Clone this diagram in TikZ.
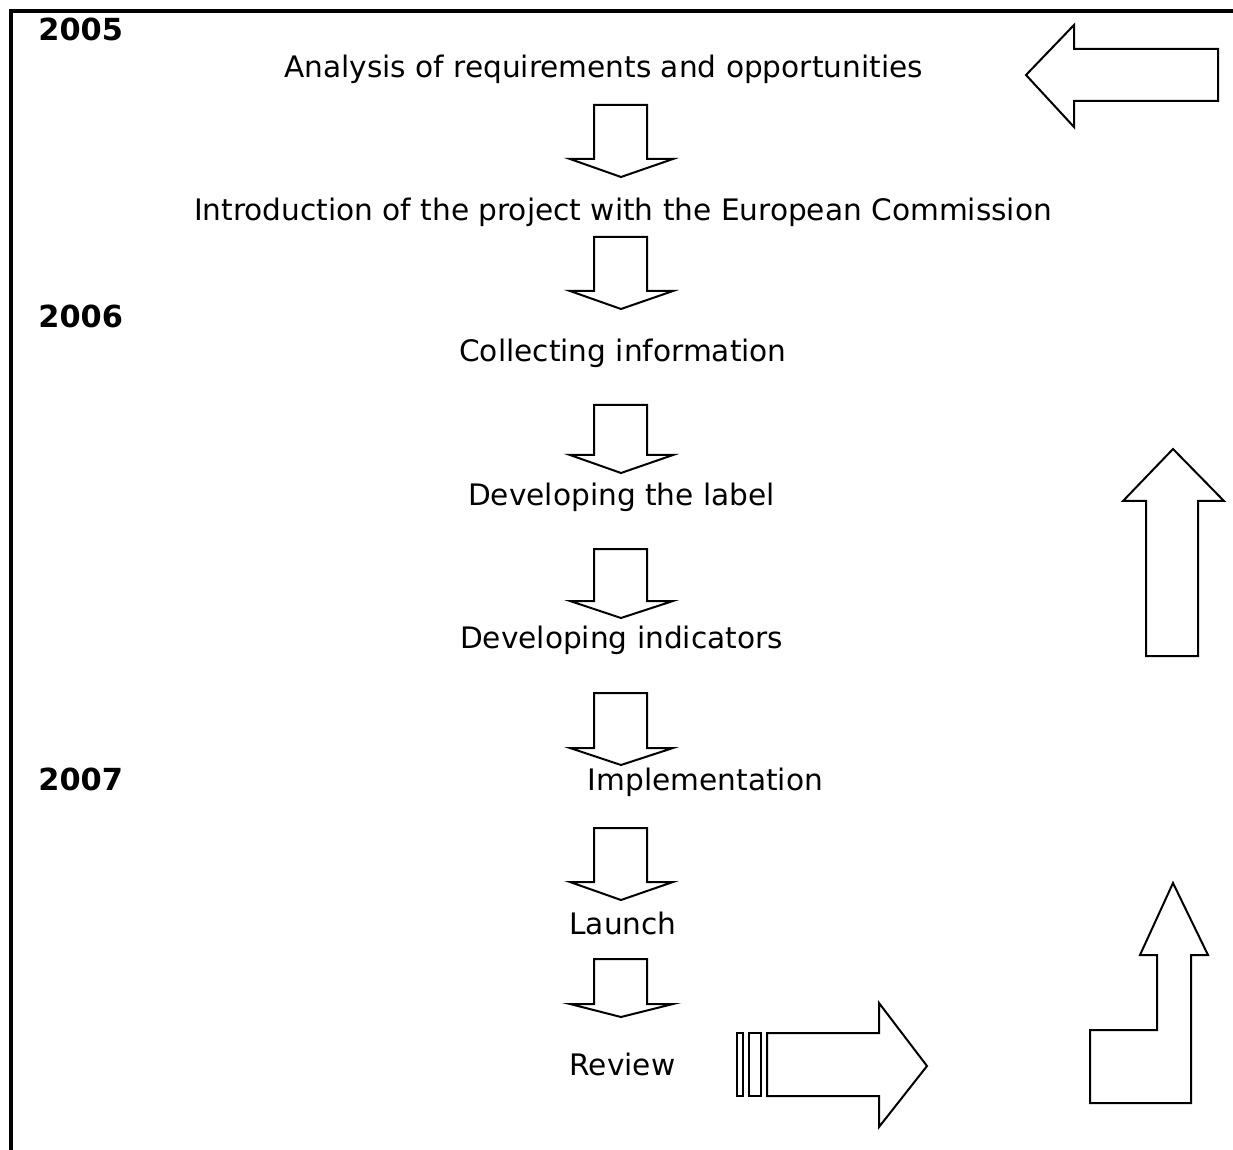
\documentclass[tikz,border=0pt]{standalone}
\usepackage{fontspec}
\setmainfont{DejaVu Sans}
\usetikzlibrary{positioning}
\definecolor{ink}{RGB}{0,0,0}
\tikzset{
  lbl/.style={anchor=base,inner sep=0pt,text=ink,font=\fontsize{14.8}{17}\selectfont},
  yr/.style={anchor=base west,inner sep=0pt,text=ink,font=\fontsize{15.2}{17}\selectfont\bfseries},
  blk/.style={draw=ink,fill=white,line width=1pt,line join=miter},
  frame/.style={draw=ink,line width=1.75pt},
}
\begin{document}
\begin{tikzpicture}[x=0.5pt,y=-0.5pt]
  \useasboundingbox (0,0) rectangle (1233,1150);
  \draw[frame] (11,1150) -- (11,11) -- (1233,11);
  % years
  \node[yr] (y2005) at (38,41) {2005};
  \node[yr] (y2006) at (38,328) {2006};
  \node[yr] (y2007) at (38,790) {2007};
  % steps
  \node[lbl] (analysis) at (603.5,78) {Analysis of requirements and opportunities};
  \node[lbl] (intro) at (623,221) {Introduction of the project with the European Commission};
  \node[lbl] (collect) at (623,362) {Collecting information};
  \node[lbl] (label) at (621.5,506) {Developing the label};
  \node[lbl] (indic) at (621.5,648) {Developing indicators};
  \node[lbl] (impl) at (705.5,790) {Implementation};
  \node[lbl] (launch) at (623,934) {Launch};
  \node[lbl] (review) at (622.5,1075) {Review};
  % block arrows between the steps
  \foreach \t/\b/\p in {105/159/177,237/291/309,405/455/473,549/601/618,
                        693/748/765,828/882/900,959/1004/1017} {
    \draw[blk] (594,\t) -- (647,\t) -- (647,\b) -- (673,\b) -- (621,\p)
      -- (570,\b) -- (594,\b) -- cycle;
  }
  % side arrows
  \draw[blk] (1218,49) -- (1074,49) -- (1074,25) -- (1026,75) -- (1074,127)
    -- (1074,101) -- (1218,101) -- cycle;
  \draw[blk] (1146,656) -- (1146,501) -- (1123,501) -- (1173,449) -- (1224,501)
    -- (1198,501) -- (1198,656) -- cycle;
  \draw[blk] (737,1033) rectangle (743,1096);
  \draw[blk] (749,1033) rectangle (761,1096);
  \draw[blk] (767,1033) -- (879,1033) -- (879,1003) -- (927,1066) -- (879,1127)
    -- (879,1096) -- (767,1096) -- cycle;
  \draw[blk] (1090,1030) -- (1157,1030) -- (1157,955) -- (1140,955) -- (1173,883)
    -- (1208,955) -- (1191,955) -- (1191,1103) -- (1090,1103) -- cycle;
\end{tikzpicture}
\end{document}
